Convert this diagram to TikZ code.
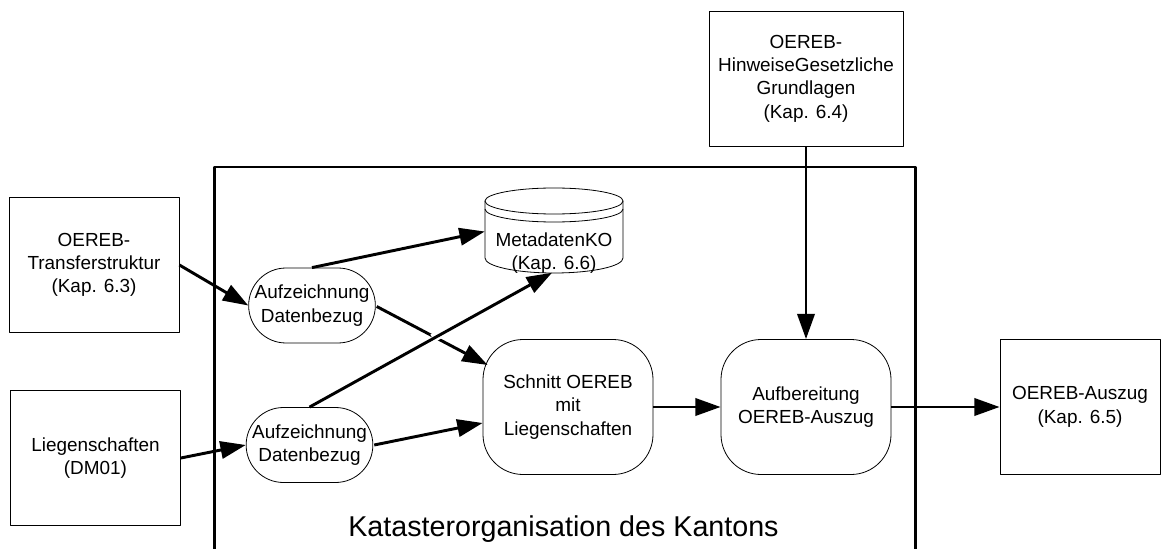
\documentclass[tikz,border=0pt]{standalone}
\usepackage{fontspec}
\setmainfont{Liberation Sans}
\usetikzlibrary{arrows.meta}
\tikzset{
	databox/.style={draw,line width=0.6pt,align=center,font=\fontsize{14.2}{17.5}\selectfont,inner sep=0pt,minimum width=127.5pt,minimum height=101.25pt,execute at begin node={\rule{0pt}{13.5pt}}},
	procbox/.style={databox,rounded corners=30pt},
	aufzbox/.style={databox,rounded corners=28pt,minimum width=95pt,minimum height=56.25pt},
	conn/.style={line width=2.2pt,-{Triangle[length=19pt,width=13pt]}},
	connover/.style={line width=6.5pt,white},
}
\begin{document}
\begin{tikzpicture}[line cap=butt,line join=round,x=0.75pt,y=-0.75pt]
	\useasboundingbox (0,0) rectangle (1168,549);
	\draw [line width=2.2pt] (214.5,549)-- (214.5,167)-- (915.5,167)-- (915.5,549);
	\node (kanton) at (563.5,529) {\fontsize{21.5}{25}\selectfont Katasterorganisation des Kantons};
	\node [databox] (transfer) at (94,265) {OEREB-\\Transferstruktur\\(Kap. 6.3)};
	\node [databox] (liegen) at (95.5,458) {Liegenschaften\\(DM01)};
	\node [databox,minimum width=145.5pt] (hinweise) at (806,78.5) {OEREB-\\HinweiseGesetzliche\\Grundlagen\\(Kap. 6.4)};
	\node [databox,minimum width=120pt] (auszug) at (1080,407) {OEREB-Auszug\\(Kap. 6.5)};
	\node [aufzbox] (aufzA) at (312,305.5) {Aufzeichnung\\Datenbezug};
	\node [aufzbox] (aufzB) at (309.5,445) {Aufzeichnung\\Datenbezug};
	\node [procbox] (schnitt) at (568,407) {Schnitt OEREB\\mit\\Liegenschaften};
	\node [procbox] (aufber) at (806,407) {Aufbereitung\\OEREB-Auszug};
	% Zylinder
	\node [minimum width=103.5pt,minimum height=63pt,inner sep=0pt] (meta) at (554,230.5) {};
	\draw [line width=0.6pt] (554,201) ellipse [x radius=69,y radius=13];
	\draw [line width=0.6pt] (485,201)-- (485,258) arc [start angle=180,end angle=0,x radius=69,y radius=15]-- (623,201);
	\draw [line width=0.6pt] (485,209) arc [start angle=180,end angle=0,x radius=69,y radius=13];
	\node [align=center,font=\fontsize{14.2}{17.5}\selectfont] (metatext) at (554,253) {MetadatenKO\\(Kap. 6.6)};
	\draw [conn] (transfer.east) -- (aufzA.west);
	\draw [conn] (liegen.east) -- (aufzB.west);
	\draw [conn] (aufzA.north) -- ([shift={(0,1)}]meta.west);
	\draw [conn] ([shift={(1,1)}]aufzA.east) -- ([shift={(5,-42)}]schnitt.west);
	\draw [connover] ([shift={(123,-68.8)}]aufzB.north) -- ([shift={(131,-73.2)}]aufzB.north);
	\draw [conn] (aufzB.north) -- ([shift={(-2,0)}]meta.south);
	\draw [conn] ([shift={(1,0)}]aufzB.east) -- ([shift={(0,16)}]schnitt.west);
	\draw [conn] (schnitt.east) -- (aufber.west);
	\draw [conn] (hinweise.south) -- (aufber.north);
	\draw [conn] (aufber.east) -- (auszug.west);
\end{tikzpicture}
\end{document}
